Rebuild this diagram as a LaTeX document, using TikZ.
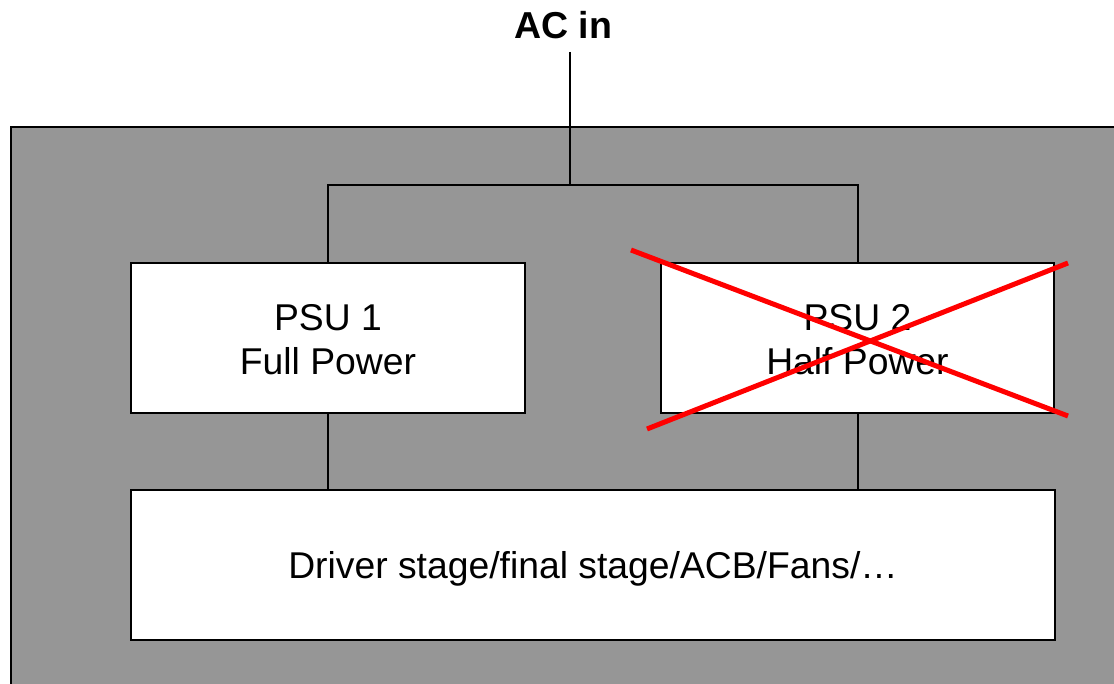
\documentclass[tikz,border=0pt]{standalone}
\usepackage{fontspec}
\setmainfont{Liberation Sans}
\definecolor{bggray}{RGB}{150,150,150}
\begin{document}
\begin{tikzpicture}[x=1pt,y=-1pt,
  blk/.style={draw=black,line width=2pt,fill=white,inner sep=0pt},
  txt/.style={inner sep=0pt,align=center,font=\fontsize{37.3}{44}\selectfont},
  wire/.style={draw=black,line width=2pt},
  cross/.style={draw=red,line width=5pt}]
\useasboundingbox (0,0) rectangle (1114,684);
\fill[bggray,draw=black,line width=2pt] (11,127) rectangle (1130,700);
\node[font=\bfseries\fontsize{37.5}{40}\selectfont] (ac) at (563,25) {AC in};
\coordinate (acend) at (570,52);
\coordinate (split) at (570,185);
\node[blk,minimum width=394pt,minimum height=150pt] (psu1) at (328,338) {};
\node[blk,minimum width=393pt,minimum height=150pt] (psu2) at (857.5,338) {};
\node[blk,minimum width=924pt,minimum height=150pt] (drv) at (593,565) {};
\node[txt] (psu1t) at ([yshift=-2pt]psu1.center) {PSU 1\\Full Power};
\node[txt] (psu2t) at ([yshift=-2pt]psu2.center) {PSU 2\\Half Power};
\node[txt] (drvt) at ([yshift=-4pt]drv.center) {Driver stage/final stage/ACB/Fans/…};
\draw[wire] (acend) -- (split);
\draw[wire] (psu1.north) -- (psu1.north |- split) -- (psu2.north |- split) -- (psu2.north);
\draw[wire] (psu1.south) -- (psu1.south |- drv.north);
\draw[wire] (psu2.south) -- (psu2.south |- drv.north);
\coordinate (x1a) at (631,250);
\coordinate (x1b) at (1068,416);
\coordinate (x2a) at (647,429);
\coordinate (x2b) at (1068,263);
\draw[cross] (x1a) -- (x1b);
\draw[cross] (x2a) -- (x2b);
\end{tikzpicture}
\end{document}
